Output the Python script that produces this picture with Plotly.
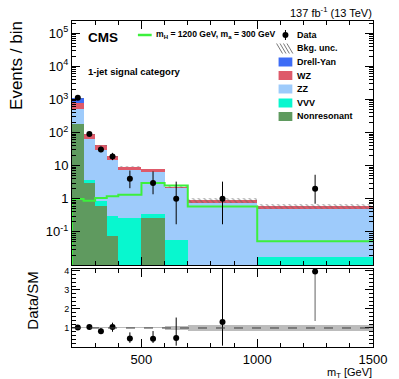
import numpy as np
import plotly.graph_objects as go

# Bin edges in mT [GeV]
edges = [200, 250, 300, 350, 400, 500, 600, 700, 1000, 1500]

# Background yields per bin
nonres = [178, 3.0, 0.62, 0.075, 0, 0.26, 0, 0, 0]
vvv = [6, 0.7, 0.23, 0.22, 0.26, 0.08, 0.056, 0, 0.017]
zz = [341, 59, 29, 14.5, 7.3, 6.2, 2.04, 0.76, 0.46]
wz = [271, 26, 11, 4.2, 1.7, 1.4, 0.24, 0.17, 0.12]
dy = [280, 0.5, 0, 0, 0, 0, 0, 0, 0]
bkg_unc = [0.03, 0.03, 0.03, 0.03, 0.03, 0.03, 0.09, 0.17, 0.17]

# Signal mH = 1200 GeV, ma = 300 GeV
signal = [0.98, 0.87, 1.05, 1.2, 1.32, 3.0, 2.5, 0.59, 0.052]

# Observed data
data = [1120, 91, 31, 19, 4, 3, 1, 1, 2]
data_lo = [33, 9.5, 5.5, 4.3, 1.91, 1.63, 0.83, 0.83, 1.29]
data_hi = [34, 10.5, 6.6, 5.4, 3.16, 3.72, 2.3, 2.3, 3.32]

# Data / SM
ratio = [1.02, 1.05, 0.83, 1.05, 0.45, 0.43, 0.47, 1.32, 3.97]
ratio_lo = [0.03, 0.11, 0.15, 0.25, 0.23, 0.22, 0.40, 1.25, 2.6]
ratio_hi = [0.03, 0.12, 0.17, 0.23, 0.32, 0.41, 1.08, 3.5, 6.6]

colors = {
    "Drell-Yan": "#3d6cf6",
    "WZ": "#de5a6a",
    "ZZ": "#9ecbfb",
    "VVV": "#08f7cf",
    "Nonresonant": "#5f9a5f",
}
green = "#3cf03c"
font = "Liberation Sans, Arial, sans-serif"

centers = [(a + b) / 2 for a, b in zip(edges[:-1], edges[1:])]
widths = [b - a for a, b in zip(edges[:-1], edges[1:])]

fig = go.Figure()

# stacked backgrounds, drawn as overlaid cumulative sums
stack = [("Nonresonant", nonres), ("VVV", vvv), ("ZZ", zz), ("WZ", wz), ("Drell-Yan", dy)]
cum = np.cumsum([np.array(v, dtype=float) for _, v in stack], axis=0)
for (name, vals), top in reversed(list(zip(stack, cum))):
    yv = [t if t > 0 else None for t in top]
    fig.add_trace(go.Bar(x=centers, y=yv, width=widths, name=name,
                         marker=dict(color=colors[name], line_width=0),
                         showlegend=False, xaxis="x", yaxis="y"))

total = cum[-1]
unc = np.array(bkg_unc)
fig.add_trace(go.Bar(x=centers, y=2 * unc * total, base=total * (1 - unc), width=widths,
                     marker=dict(color="rgba(0,0,0,0)", line_width=0,
                                 pattern=dict(shape="\\", fgcolor="rgb(100,100,100)",
                                              size=4, solidity=0.35)),
                     showlegend=False, xaxis="x", yaxis="y"))

# signal step line
fig.add_trace(go.Scatter(x=[edges[0]] + edges, y=[1e-3] + signal + [signal[-1]],
                         mode="lines", line=dict(shape="hv", color=green, width=2),
                         showlegend=False, xaxis="x", yaxis="y"))

# data points
fig.add_trace(go.Scatter(x=centers, y=data, mode="markers",
                         marker=dict(color="black", size=6),
                         error_y=dict(type="data", symmetric=False, array=data_hi,
                                      arrayminus=data_lo, color="black", thickness=1, width=0),
                         showlegend=False, xaxis="x", yaxis="y"))

# ratio panel
fig.add_trace(go.Bar(x=centers, y=[2 * u for u in bkg_unc], base=[1 - u for u in bkg_unc],
                     width=widths, marker=dict(color="rgba(165,165,165,0.75)", line_width=0),
                     showlegend=False, xaxis="x2", yaxis="y2"))
fig.add_shape(type="line", xref="x2 domain", yref="y2", x0=0, x1=1, y0=1, y1=1,
              line=dict(color="rgb(60,60,60)", width=1, dash="dash"))
fig.add_trace(go.Scatter(x=centers[:-1], y=ratio[:-1], mode="markers",
                         marker=dict(color="black", size=6),
                         error_y=dict(type="data", symmetric=False, array=ratio_hi[:-1],
                                      arrayminus=ratio_lo[:-1], color="black", thickness=1, width=0),
                         showlegend=False, xaxis="x2", yaxis="y2"))
fig.add_trace(go.Scatter(x=centers[-1:], y=ratio[-1:], mode="markers",
                         marker=dict(color="black", size=6),
                         error_y=dict(type="data", symmetric=False, array=ratio_hi[-1:],
                                      arrayminus=ratio_lo[-1:], color="rgb(150,150,150)",
                                      thickness=1.5, width=0),
                         showlegend=False, xaxis="x2", yaxis="y2"))

# axes
decades = [0.1, 1, 10, 100, 1000, 1e4, 1e5]
dec_text = ["10<sup>-1</sup>", "1", "10", "10<sup>2</sup>", "10<sup>3</sup>",
            "10<sup>4</sup>", "10<sup>5</sup>"]
minor_log = [k * 10.0 ** e for e in range(-2, 6) for k in range(2, 10)]

common_x = dict(range=[200, 1500], tick0=0, dtick=500, ticks="inside", ticklen=8,
                tickcolor="black", showline=True, linecolor="black", linewidth=1,
                mirror="allticks", showgrid=False, zeroline=False,
                minor=dict(dtick=100, ticks="inside", ticklen=4, tickcolor="black"))

fig.update_layout(
    width=399, height=379,
    margin=dict(l=72, r=21, t=21, b=32),
    paper_bgcolor="white", plot_bgcolor="white",
    barmode="overlay", bargap=0,
    font=dict(family=font, color="black"),
    xaxis=dict(common_x, anchor="y", domain=[0, 1], showticklabels=False),
    yaxis=dict(type="log", range=[-2, 5.37], domain=[0.2515, 1],
               tickmode="array", tickvals=decades, ticktext=dec_text,
               tickfont=dict(size=13), ticks="inside", ticklen=8, tickcolor="black",
               showline=True, linecolor="black", linewidth=1, mirror="allticks",
               showgrid=False, zeroline=False,
               minor=dict(tickmode="array", tickvals=minor_log, ticks="inside",
                          ticklen=4, tickcolor="black")),
    xaxis2=dict(common_x, anchor="y2", domain=[0, 1], tickvals=[500, 1000, 1500],
                tickfont=dict(size=13)),
    yaxis2=dict(range=[0, 4.1], domain=[0, 0.239], tickvals=[1, 2, 3, 4],
                tickfont=dict(size=9), ticks="inside", ticklen=8, tickcolor="black",
                showline=True, linecolor="black", linewidth=1, mirror="allticks",
                showgrid=False, zeroline=False,
                minor=dict(dtick=0.2, ticks="inside", ticklen=4, tickcolor="black")),
)


def px_x(p):
    return (p - 72) / 306


def px_y(p):
    return (347 - p) / 326


def note(text, x, y, size, bold=False, xanchor="left", angle=0):
    if bold:
        text = "<b>" + text + "</b>"
    fig.add_annotation(text=text, x=px_x(x), y=px_y(y), xref="paper", yref="paper",
                       xanchor=xanchor, yanchor="middle", showarrow=False,
                       textangle=angle, font=dict(size=size, family=font, color="black"))


note("CMS", 86, 37, 13.5, bold=True)
note("1-jet signal category", 86, 71, 9.5, bold=True)
note("137 fb<sup>-1</sup> (13 TeV)", 379, 12, 11, xanchor="right")
note("m<sub>T</sub> [GeV]", 379, 372.5, 11, xanchor="right")
note("Events / bin", 15, 65, 17, xanchor="center", angle=-90)
note("Data/SM", 31, 301, 15, xanchor="center", angle=-90)

# signal legend entry
fig.add_shape(type="line", xref="paper", yref="paper", x0=px_x(139), x1=px_x(153),
              y0=px_y(35), y1=px_y(35), line=dict(color=green, width=2.5))
note("m<sub>H</sub> = 1200 GeV, m<sub>a</sub> = 300 GeV", 155, 35, 8.6, bold=True)

# right legend
rows = [35, 48.5, 62, 75.5, 89, 103, 116.5]
labels = ["Data", "Bkg. unc.", "Drell-Yan", "WZ", "ZZ", "VVV", "Nonresonant"]
for yrow, lab in zip(rows, labels):
    note(lab, 299, yrow, 9, bold=True)
    if lab in colors:
        fig.add_shape(type="rect", xref="paper", yref="paper",
                      x0=px_x(282), x1=px_x(296), y0=px_y(yrow + 4.5), y1=px_y(yrow - 4.5),
                      fillcolor=colors[lab], line_width=0)
# data marker in legend
fig.add_shape(type="line", xref="paper", yref="paper", x0=px_x(289), x1=px_x(289),
              y0=px_y(rows[0] + 5), y1=px_y(rows[0] - 5), line=dict(color="black", width=1))
fig.add_shape(type="circle", xref="paper", yref="paper", xsizemode="pixel", ysizemode="pixel",
              xanchor=px_x(289), yanchor=px_y(rows[0]), x0=-3, x1=3, y0=-3, y1=3,
              fillcolor="black", line_width=0)
# hatch swatch for the uncertainty
for k in range(4):
    x0 = 283 + k * 3.5
    fig.add_shape(type="line", xref="paper", yref="paper",
                  x0=px_x(x0 - 3), x1=px_x(x0 + 3), y0=px_y(rows[1] - 5), y1=px_y(rows[1] + 5),
                  line=dict(color="rgb(120,120,120)", width=1))

# page margin off so the figure fills the window
fig.write_html("out.html", config={"displayModeBar": False},
               post_script="document.body.style.margin='0';")
